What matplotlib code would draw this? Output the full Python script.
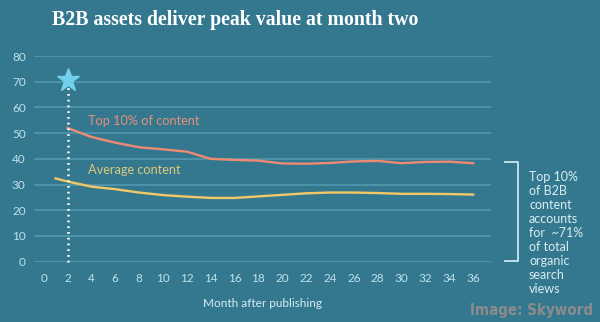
import matplotlib
matplotlib.use('Agg')
import matplotlib.pyplot as plt

# Organic search views share (%) by month after publishing
top_months = [2, 4, 6, 8, 10, 12, 14, 16, 18, 20, 22, 24, 26, 28, 30, 32, 34, 36]
top_vals = [52, 48.5, 46.3, 44.5, 43.7, 42.8, 40, 39.6, 39.3, 38.2, 38.1, 38.4, 39.0, 39.2, 38.3, 38.8, 38.9, 38.3]

avg_months = [1, 2, 4, 6, 8, 10, 12, 14, 16, 18, 20, 22, 24, 26, 28, 30, 32, 34, 36]
avg_vals = [32.4, 31.2, 29.2, 28.2, 26.9, 25.9, 25.3, 24.8, 24.8, 25.4, 26.0, 26.6, 26.9, 26.9, 26.7, 26.4, 26.4, 26.3, 26.1]

peak_month = 2
peak_star = 70.5
xticks = list(range(0, 37, 2))
yticks = list(range(0, 81, 10))

bg = '#33788f'
grid_c = '#4f97ad'
tick_c = '#bfe2ec'

fig = plt.figure(figsize=(6, 3.22), dpi=100, facecolor=bg)
ax = fig.add_axes([34 / 600, 1 - 261.7 / 322, (490.5 - 34) / 600, (261.7 - 56) / 322])
ax.set_facecolor(bg)
ax.set_xlim(-0.81, 37.45)
ax.set_ylim(0, 80)

for y in yticks:
    ax.axhline(y, color=grid_c, lw=1.3, zorder=1)

ax.plot(top_months, top_vals, color='#ef8a72', lw=1.7, zorder=3)
ax.plot(avg_months, avg_vals, color='#f2c765', lw=1.7, zorder=3)

ax.plot([peak_month, peak_month], [0, 68], color='white', lw=1.8,
        linestyle=(0, (0.7, 1.6)), zorder=4, clip_on=False)
ax.plot([peak_month], [peak_star], marker='*', ms=17, color='#72d1ea',
        mec='#72d1ea', zorder=5, clip_on=False)

sans = ['Lato', 'DejaVu Sans']
ax.text(3.75, 54.7, 'Top 10% of content', color='#e6907a', fontsize=9.2,
        family=sans, va='center')
ax.text(3.75, 35.7, 'Average content', color='#e0c77a', fontsize=9.2,
        family=sans, va='center')

for s in ax.spines.values():
    s.set_visible(False)
ax.set_xticks(xticks)
ax.set_yticks(yticks)
ax.tick_params(length=0, colors=tick_c, labelsize=8.5)
ax.tick_params(axis='x', pad=8)
ax.tick_params(axis='y', pad=6)
for lab in ax.get_xticklabels() + ax.get_yticklabels():
    lab.set_family(sans)
ax.set_xlabel('Month after publishing', color='#d8eef2', fontsize=8.5,
              family=sans, labelpad=10)

fig.text(52 / 600, 1 - 20 / 322, 'B2B assets deliver peak value at month two',
         color='white', fontsize=14.3, fontweight='bold',
         family=['Liberation Serif', 'DejaVu Serif'], va='center', ha='left')

# bracket
fig.add_artist(plt.Line2D([505 / 600, 518 / 600, 518 / 600, 505 / 600],
                          [1 - 162 / 322, 1 - 162 / 322, 1 - 261 / 322, 1 - 261 / 322],
                          color='#c9e7ef', lw=1.3))
fig.text(529 / 600, 1 - 171 / 322,
         'Top 10%\nof B2B\ncontent\naccounts\nfor  ~71%\nof total\norganic\nsearch\nviews',
         color='#d8eef2', fontsize=9, family=sans, va='top', ha='left',
         linespacing=1.2)

fig.text(593 / 600, 1 - 310 / 322, 'Image: Skyword', color='#8c8c8c',
         fontsize=10.8, fontweight='bold', fontstretch='condensed',
         family=['DejaVu Sans'], ha='right', va='center')

fig.savefig('out.png', dpi=100, facecolor=bg)
